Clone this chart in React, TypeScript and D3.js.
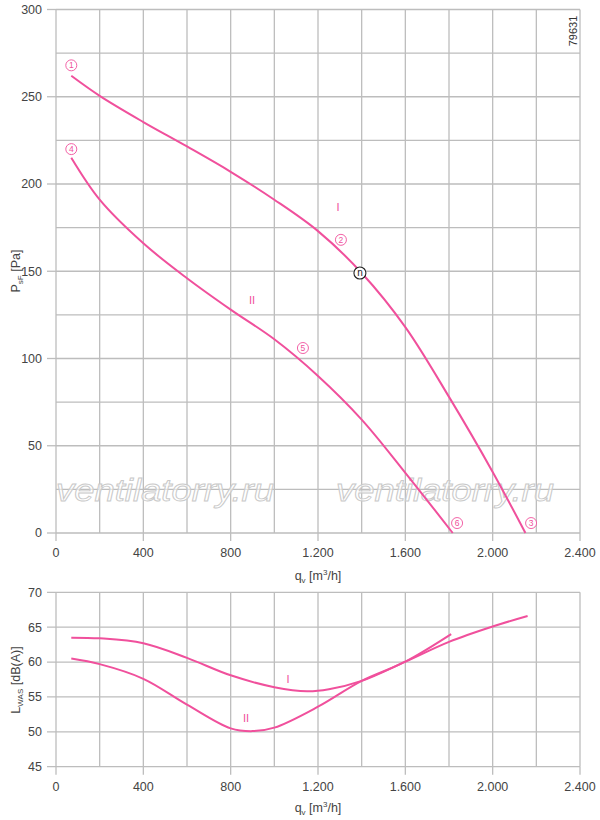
import React from "react";
import * as d3 from "d3";

// ---- data ----
const qTicks = [0, 400, 800, 1200, 1600, 2000, 2400];
const qTickLabels = ["0", "400", "800", "1.200", "1.600", "2.000", "2.400"];
const pTicks = [0, 50, 100, 150, 200, 250, 300];
const lTicks = [45, 50, 55, 60, 65, 70];

const qI = [70, 200, 400, 600, 800, 1000, 1200, 1400, 1600, 1800, 2000, 2150];
const pI = [262, 250.5, 235.5, 221.5, 207, 191, 173, 149, 118, 78, 35, 0];
const qII = [70, 200, 400, 600, 800, 1000, 1200, 1400, 1600, 1817];
const pII = [215, 191, 166, 146, 128, 111, 90, 65, 34.5, 0];

const qLI = [70, 200, 400, 600, 800, 1000, 1150, 1250, 1400, 1600, 1800, 2000, 2160];
const lI = [63.5, 63.4, 62.7, 60.6, 58.1, 56.4, 55.8, 56.1, 57.3, 60.05, 62.9, 65.1, 66.6];
const qLII = [70, 200, 400, 600, 800, 900, 1000, 1200, 1400, 1600, 1810];
const lII = [60.5, 59.7, 57.6, 53.9, 50.5, 50.1, 50.6, 53.6, 57.3, 60.05, 64.0];

const markers = [
  { n: "1", q: 70, p: 268 },
  { n: "2", q: 1305, p: 168 },
  { n: "3", q: 2176, p: 5.7 },
  { n: "4", q: 70, p: 220 },
  { n: "5", q: 1131, p: 106 },
  { n: "6", q: 1837, p: 5.7 },
];
const opPoint = { q: 1392, p: 149 };
const topLabels = [
  { t: "I", q: 1292, p: 187 },
  { t: "II", q: 898, p: 133.5 },
];
const botLabels = [
  { t: "I", q: 1063, l: 57.6 },
  { t: "II", q: 870, l: 51.9 },
];

const PINK = "#f0509c";
const GRID = "#bdbdbd";
const TXT = "#444";
const FONT = "'Liberation Sans', Arial, Helvetica, sans-serif";

export default function App() {
  const x = d3.scaleLinear().domain([0, 2400]).range([56, 580]);
  const yP = d3.scaleLinear().domain([0, 300]).range([533, 9.5]);
  const yL = d3.scaleLinear().domain([45, 70]).range([766.7, 592.3]);

  const gridQ = d3.range(0, 2401, 200);
  const gridP = d3.range(0, 301, 25);

  const lineTop = d3
    .line<[number, number]>()
    .x((d) => x(d[0]))
    .y((d) => yP(d[1]))
    .curve(d3.curveCatmullRom.alpha(0.5));
  const lineBot = d3
    .line<[number, number]>()
    .x((d) => x(d[0]))
    .y((d) => yL(d[1]))
    .curve(d3.curveCatmullRom.alpha(0.5));

  const zip = (a: number[], b: number[]) => a.map((v, i) => [v, b[i]] as [number, number]);

  return (
    <div style={{ position: "absolute", left: 0, top: 0 }}>
      <svg width={600} height={820} style={{ display: "block", background: "#fff" }} fontFamily={FONT}>
        {/* ---------- top chart ---------- */}
        <g>
          {gridQ.map((q) => (
            <line key={"tv" + q} x1={x(q)} x2={x(q)} y1={yP(300)} y2={yP(0)} stroke={GRID} strokeWidth={1.3} />
          ))}
          {gridP.map((p) => (
            <line key={"th" + p} x1={x(0)} x2={x(2400)} y1={yP(p)} y2={yP(p)} stroke={GRID} strokeWidth={1.3} />
          ))}
          {pTicks.map((p) => (
            <g key={"pt" + p}>
              <line x1={47} x2={x(0)} y1={yP(p)} y2={yP(p)} stroke={GRID} strokeWidth={1.3} />
              <text x={42} y={yP(p)} dy="0.35em" textAnchor="end" fontSize={12.5} fill={TXT}>
                {p}
              </text>
            </g>
          ))}
          {qTicks.map((q, i) => (
            <g key={"qt" + q}>
              <line x1={x(q)} x2={x(q)} y1={yP(0)} y2={yP(0) + 8} stroke={GRID} strokeWidth={1.3} />
              <text x={x(q)} y={557} textAnchor="middle" fontSize={12.5} fill={TXT}>
                {qTickLabels[i]}
              </text>
            </g>
          ))}
          <text x={318} y={580} textAnchor="middle" fontSize={12.5} fill={TXT}>
            q<tspan fontSize={8} dy={3}>v</tspan>
            <tspan dy={-3}> [m</tspan>
            <tspan fontSize={8} dy={-5}>3</tspan>
            <tspan dy={5}>/h]</tspan>
          </text>
          <text transform={`translate(20,${271}) rotate(-90)`} textAnchor="middle" fontSize={12.5} fill={TXT}>
            P<tspan fontSize={8} dy={3}>sF</tspan>
            <tspan dy={-3}> [Pa]</tspan>
          </text>
          <text transform="translate(577,31) rotate(-90)" textAnchor="middle" fontSize={11} fill="#333">
            79631
          </text>

          {/* watermarks */}
          {[165, 445].map((cx) => (
            <text
              key={"wm" + cx}
              x={cx}
              y={501}
              textAnchor="middle"
              fontSize={31}
              fontStyle="italic"
              fill="#fff"
              fillOpacity={0.6}
              stroke="#c9c9c9"
              strokeWidth={0.9}
              textLength={218}
              lengthAdjust="spacingAndGlyphs"
            >
              ventilatorry.ru
            </text>
          ))}

          <path d={lineTop(zip(qI, pI)) || ""} fill="none" stroke={PINK} strokeWidth={2} />
          <path d={lineTop(zip(qII, pII)) || ""} fill="none" stroke={PINK} strokeWidth={2} />

          {markers.map((m) => (
            <g key={"m" + m.n}>
              <circle cx={x(m.q)} cy={yP(m.p)} r={5.5} fill="#fff" stroke={PINK} strokeWidth={0.9} />
              <text x={x(m.q)} y={yP(m.p)} dy="0.36em" textAnchor="middle" fontSize={8.5} fill={PINK}>
                {m.n}
              </text>
            </g>
          ))}
          <circle cx={x(opPoint.q)} cy={yP(opPoint.p)} r={6} fill="#fff" stroke="#222" strokeWidth={1.1} />
          <text x={x(opPoint.q)} y={yP(opPoint.p)} dy="0.32em" textAnchor="middle" fontSize={10} fill="#222">
            n
          </text>
          {topLabels.map((l) => (
            <text key={"tl" + l.t} x={x(l.q)} y={yP(l.p)} dy="0.35em" textAnchor="middle" fontSize={11} fill={PINK}>
              {l.t}
            </text>
          ))}
        </g>

        {/* ---------- bottom chart ---------- */}
        <g>
          {gridQ.map((q) => (
            <line key={"bv" + q} x1={x(q)} x2={x(q)} y1={yL(70)} y2={yL(45)} stroke={GRID} strokeWidth={1.3} />
          ))}
          {lTicks.map((l) => (
            <g key={"lt" + l}>
              <line x1={47} x2={x(2400)} y1={yL(l)} y2={yL(l)} stroke={GRID} strokeWidth={1.3} />
              <text x={42} y={yL(l)} dy="0.35em" textAnchor="end" fontSize={12.5} fill={TXT}>
                {l}
              </text>
            </g>
          ))}
          {qTicks.map((q, i) => (
            <g key={"bq" + q}>
              <line x1={x(q)} x2={x(q)} y1={yL(45)} y2={yL(45) + 8} stroke={GRID} strokeWidth={1.3} />
              <text x={x(q)} y={791} textAnchor="middle" fontSize={12.5} fill={TXT}>
                {qTickLabels[i]}
              </text>
            </g>
          ))}
          <text x={318} y={812} textAnchor="middle" fontSize={12.5} fill={TXT}>
            q<tspan fontSize={8} dy={3}>v</tspan>
            <tspan dy={-3}> [m</tspan>
            <tspan fontSize={8} dy={-5}>3</tspan>
            <tspan dy={5}>/h]</tspan>
          </text>
          <text transform={`translate(20,${680}) rotate(-90)`} textAnchor="middle" fontSize={12.5} fill={TXT}>
            L<tspan fontSize={8} dy={3}>WAS</tspan>
            <tspan dy={-3}> [dB(A)]</tspan>
          </text>

          <path d={lineBot(zip(qLI, lI)) || ""} fill="none" stroke={PINK} strokeWidth={2} />
          <path d={lineBot(zip(qLII, lII)) || ""} fill="none" stroke={PINK} strokeWidth={2} />
          {botLabels.map((l) => (
            <text key={"bl" + l.t} x={x(l.q)} y={yL(l.l)} dy="0.35em" textAnchor="middle" fontSize={11} fill={PINK}>
              {l.t}
            </text>
          ))}
        </g>
      </svg>
    </div>
  );
}
